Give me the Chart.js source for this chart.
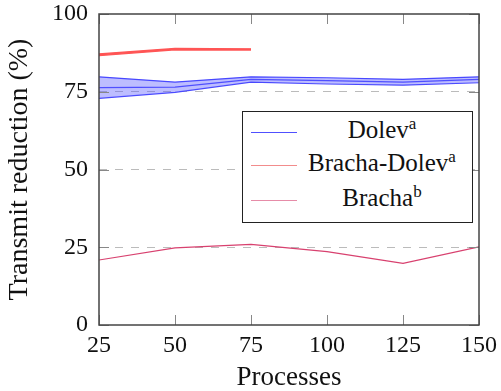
<!DOCTYPE html>
<html lang="en">
<head>
    <meta charset="UTF-8">
    <title>Transmit reduction</title>
    <script src="https://cdn.jsdelivr.net/npm/chart.js"></script>
    <style>
        body { margin: 0; background: #fff; }
        #wrap { position: relative; width: 501px; height: 391px; }
        #legend {
            position: absolute; left: 242px; top: 111px; width: 229px; height: 110px;
            border: 1.5px solid #222; background: #fff;
            font-family: "Liberation Serif", "Times New Roman", serif; font-size: 25px; color: #111;
        }
        #legend .row { position: absolute; left: 0; width: 100%; height: 34px; line-height: 34px; }
        #legend .swatch { position: absolute; left: 8px; width: 46px; top: 19px; height: 1px; }
        #legend .txt { position: absolute; left: 49px; right: 0; text-align: center; }
        #legend sup { font-size: 17px; vertical-align: 9px; line-height: 0; }
    </style>
</head>
<body>
    <div id="wrap">
        <canvas id="chart"></canvas>
        <div id="legend">
            <div class="row" style="top:1px"><span class="swatch" style="background:#5050ff"></span><span class="txt">Dolev<sup>a</sup></span></div>
            <div class="row" style="top:34px"><span class="swatch" style="background:#f28c8c"></span><span class="txt">Bracha-Dolev<sup>a</sup></span></div>
            <div class="row" style="top:69px"><span class="swatch" style="background:#e68ca8"></span><span class="txt">Bracha<sup>b</sup></span></div>
        </div>
    </div>

    <script>
        // data
        const processes = [25, 50, 75, 100, 125, 150];
        const dolevUpper = [79.8, 78.1, 79.8, 79.5, 79.0, 79.8];
        const dolevMean = [76.3, 76.5, 79.0, 78.6, 78.1, 79.0];
        const dolevLower = [72.9, 74.8, 78.1, 77.5, 77.1, 77.9];
        const brachaDolevX = [25, 50, 75];
        const brachaDolevUpper = [87.2, 88.9, 88.8];
        const brachaDolevMean = [86.9, 88.7, 88.6];
        const brachaDolevLower = [86.6, 88.5, 88.4];
        const brachaValues = [20.9, 24.8, 25.9, 23.6, 19.8, 25.1];
        const yTicks = [0, 25, 50, 75, 100];

        const serif = "'Liberation Serif', 'Times New Roman', serif";

        function pts(xs, ys) {
            return xs.map((x, i) => ({ x: x, y: ys[i] }));
        }

        function line(data, color, width, fill, bg) {
            return {
                data: data,
                borderColor: color,
                borderWidth: width,
                backgroundColor: bg || color,
                fill: fill,
                pointRadius: 0,
                tension: 0
            };
        }

        // frame and inward ticks, pgfplots style
        const framePlugin = {
            id: 'frame',
            afterDraw(chart) {
                const ctx = chart.ctx;
                const a = chart.chartArea;
                const xs = chart.scales.x, ys = chart.scales.y;
                ctx.save();
                ctx.strokeStyle = '#888';
                ctx.lineWidth = 1;
                xs.ticks.forEach(t => {
                    const px = Math.round(xs.getPixelForValue(t.value)) + 0.5;
                    ctx.beginPath();
                    ctx.moveTo(px, a.bottom); ctx.lineTo(px, a.bottom - 10);
                    ctx.moveTo(px, a.top); ctx.lineTo(px, a.top + 10);
                    ctx.stroke();
                });
                ys.ticks.forEach(t => {
                    const py = Math.round(ys.getPixelForValue(t.value)) + 0.5;
                    ctx.beginPath();
                    ctx.moveTo(a.left, py); ctx.lineTo(a.left + 10, py);
                    ctx.moveTo(a.right, py); ctx.lineTo(a.right - 10, py);
                    ctx.stroke();
                });
                ctx.strokeStyle = '#444';
                ctx.lineWidth = 1.5;
                ctx.strokeRect(a.left, a.top, a.right - a.left, a.bottom - a.top);
                ctx.restore();
            }
        };

        new Chart(document.getElementById('chart'), {
            type: 'line',
            data: {
                datasets: [
                    line(pts(processes, dolevUpper), '#4848ff', 1.2, '+1', 'rgba(90, 90, 255, 0.4)'),
                    line(pts(processes, dolevLower), '#4848ff', 1.2, false),
                    line(pts(processes, dolevMean), '#4848ff', 1.2, false),
                    line(pts(brachaDolevX, brachaDolevUpper), '#ff5555', 1.3, '+1', 'rgba(255, 90, 90, 0.6)'),
                    line(pts(brachaDolevX, brachaDolevLower), '#ff5555', 1.3, false),
                    line(pts(brachaDolevX, brachaDolevMean), '#ff4444', 1.3, false),
                    line(pts(processes, brachaValues), '#d8416f', 1.2, false)
                ]
            },
            options: {
                responsive: true,
                maintainAspectRatio: false,
                animation: false,
                layout: { padding: { top: 14, right: 22, left: 0, bottom: 0 } },
                plugins: { legend: { display: false }, tooltip: { enabled: false } },
                scales: {
                    x: {
                        type: 'linear',
                        min: 25, max: 150,
                        afterFit(scale) { scale.height = 66; },
                        ticks: { stepSize: 25, color: '#111', padding: -2, font: { family: serif, size: 24 } },
                        grid: { display: false },
                        border: { display: false },
                        title: { display: true, text: 'Processes', color: '#111', padding: { top: 0, bottom: -3 }, font: { family: serif, size: 27 } }
                    },
                    y: {
                        min: 0, max: 100,
                        afterFit(scale) {
                            scale.width = 99;
                            scale.paddingTop = 0;
                            scale.paddingBottom = 0;
                        },
                        afterBuildTicks(scale) { scale.ticks = yTicks.map(v => ({ value: v })); },
                        ticks: { color: '#111', padding: 11, font: { family: serif, size: 24 } },
                        grid: {
                            drawTicks: false,
                            color: c => (c.tick && c.tick.value > 0 && c.tick.value < 100) ? '#bbbbbb' : 'rgba(0,0,0,0)',
                            lineWidth: 1
                        },
                        border: { display: false, dash: [8, 8] },
                        title: { display: true, text: 'Transmit reduction (%)', color: '#111', padding: { top: 3, bottom: 0 }, font: { family: serif, size: 28 } }
                    }
                }
            },
            plugins: [framePlugin]
        });
    </script>
</body>
</html>
